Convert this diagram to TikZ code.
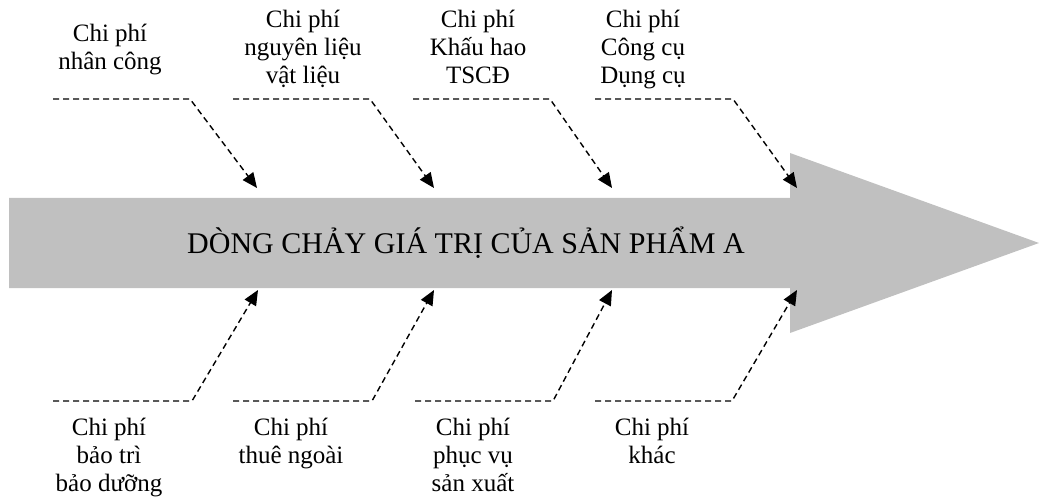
\documentclass[tikz,border=0pt]{standalone}
\usepackage{fontspec}
\setmainfont{Liberation Serif}
\usetikzlibrary{arrows.meta}

\tikzset{
  cause/.style={-{Triangle[length=15pt,width=13pt]}, dash pattern=on 6pt off 4pt, line width=1.4pt, black},
  lbl/.style={align=center, inner sep=0pt, anchor=north, font=\fontsize{25}{28}\selectfont},
}

\begin{document}
\begin{tikzpicture}[x=1pt, y=-1pt]
          \useasboundingbox (0,0) rectangle (1039,497);

          % the value stream
          \fill[color={rgb,255:red,192;green,192;blue,192}] (9,198) -- (790,198) -- (790,153)
          -- (1039,243) -- (790,333) -- (790,288) -- (9,288) -- cycle;
          \node[font=\fontsize{30}{34}\selectfont, inner sep=0pt] (flow) at (466,243)
          {DÒNG CHẢY GIÁ TRỊ CỦA SẢN PHẨM A};

          % upper costs
          \node[lbl] (nhancong) at (110,24) {Chi phí\\nhân công};
          \node[lbl] (nguyenlieu) at (303,10) {Chi phí\\nguyên liệu\\vật liệu};
          \node[lbl] (khauhao) at (478,10) {Chi phí\\Khấu hao\\TSCĐ};
          \node[lbl] (congcu) at (643,10) {Chi phí\\Công cụ\\Dụng cụ};

          \coordinate (u1a) at (53,99);  \coordinate (u1b) at (190,99);  \coordinate (u1c) at (257,188);
          \coordinate (u2a) at (233,99); \coordinate (u2b) at (370,99);  \coordinate (u2c) at (434,188);
          \coordinate (u3a) at (413,99); \coordinate (u3b) at (550,99);  \coordinate (u3c) at (612,188);
          \coordinate (u4a) at (595,99); \coordinate (u4b) at (733,99);  \coordinate (u4c) at (797,188);

          \draw[cause] (u1a) -- (u1b) -- (u1c);
          \draw[cause] (u2a) -- (u2b) -- (u2c);
          \draw[cause] (u3a) -- (u3b) -- (u3c);
          \draw[cause] (u4a) -- (u4b) -- (u4c);

          % lower costs
          \node[lbl] (baotri) at (109,418) {Chi phí\\bảo trì\\bảo dưỡng};
          \node[lbl] (thuengoai) at (291,418) {Chi phí\\thuê ngoài};
          \node[lbl] (phucvu) at (473,418) {Chi phí\\phục vụ\\sản xuất};
          \node[lbl] (khac) at (652,418) {Chi phí\\khác};

          \coordinate (l1a) at (53,401);  \coordinate (l1b) at (192,401); \coordinate (l1c) at (258,290);
          \coordinate (l2a) at (233,401); \coordinate (l2b) at (372,401); \coordinate (l2c) at (434,290);
          \coordinate (l3a) at (415,401); \coordinate (l3b) at (553,401); \coordinate (l3c) at (612,290);
          \coordinate (l4a) at (595,401); \coordinate (l4b) at (732,401); \coordinate (l4c) at (797,290);

          \draw[cause] (l1a) -- (l1b) -- (l1c);
          \draw[cause] (l2a) -- (l2b) -- (l2c);
          \draw[cause] (l3a) -- (l3b) -- (l3c);
          \draw[cause] (l4a) -- (l4b) -- (l4c);

        \end{tikzpicture}
\end{document}
